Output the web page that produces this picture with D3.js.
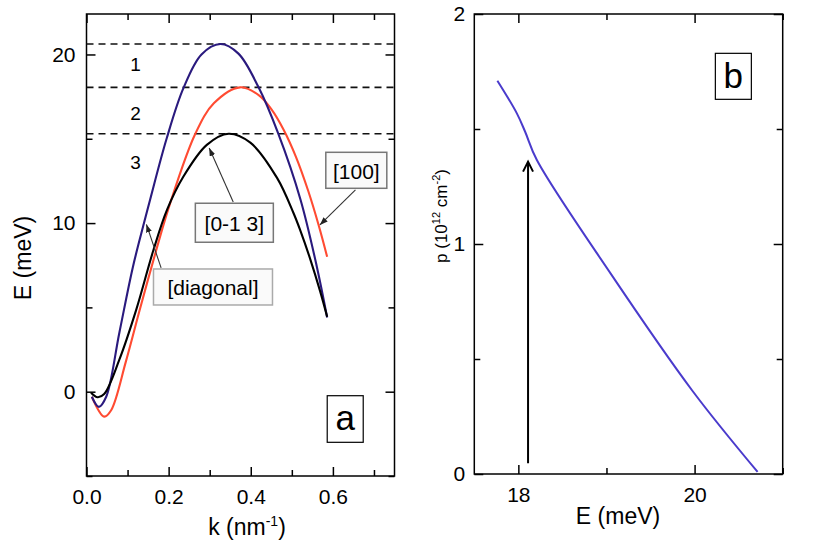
<!DOCTYPE html>
<html lang="en">
<head>
<meta charset="utf-8">
<title>Hole dispersion and density</title>
<script src="https://d3js.org/d3.v7.min.js"></script>
<style>
  body { margin: 0; background: #fff; }
  svg { display: block; font-family: "Liberation Sans", Arial, Helvetica, sans-serif; }
</style>
</head>
<body>
<svg id="chart" width="830" height="548"></svg>
<script>
// ---- panel a : E(k) along three directions ----
const kDiagonal = [0.013, 0.030, 0.048, 0.080, 0.113, 0.140, 0.155, 0.195, 0.236, 0.280, 0.326, 0.370, 0.419, 0.467, 0.521, 0.561, 0.586];
const eDiagonal = [-0.3, -0.9, -0.3, 3.5, 7.4, 10.0, 11.4, 15.0, 18.0, 20.0, 20.62, 20.05, 18.05, 15.3, 11.4, 7.4, 4.4];

const k100 = [0.013, 0.043, 0.060, 0.096, 0.129, 0.171, 0.204, 0.265, 0.310, 0.374, 0.420, 0.450, 0.480, 0.510, 0.540, 0.565, 0.586];
const e100 = [-0.3, -1.48, -1.1, 1.8, 4.8, 8.5, 11.2, 15.3, 17.1, 18.05, 17.58, 16.76, 15.54, 13.93, 11.9, 9.9, 8.0];

const k013 = [0.011, 0.027, 0.043, 0.080, 0.121, 0.163, 0.196, 0.236, 0.293, 0.346, 0.399, 0.464, 0.504, 0.521, 0.545, 0.569, 0.586];
const e013 = [-0.06, -0.33, -0.14, 1.9, 4.85, 8.4, 10.78, 12.76, 14.64, 15.3, 14.77, 12.68, 10.6, 9.54, 7.85, 5.95, 4.45];

// Fermi levels 1, 2, 3
const levels = [20.62, 18.05, 15.3];
const levelNames = ["1", "2", "3"];
const levelLabelE = [19.38, 16.5, 13.62];

// direction labels: box centre (k, E) and size, arrow tail and tip (k, E)
const dirNames = ["[0-1 3]", "[100]", "[diagonal]"];
const dirBox = [[0.360, 10.02, 78, 39], [0.657, 13.13, 61, 36], [0.308, 6.21, 119, 36]];
const dirTail = [[0.3573, 11.25], [0.6549, 11.97], [0.1817, 7.34]];
const dirTip = [[0.2988, 14.45], [0.5683, 9.89], [0.1459, 9.92]];

// ---- panel b : density vs energy ----
const eDensity = [17.762, 17.983, 18.077, 18.21, 19.05, 19.975, 20.715];
const pDensity = [1.710, 1.568, 1.488, 1.365, 0.87, 0.362, 0.009];
const arrowE = 18.11;
const arrowP = [0.047, 1.358];

const svg = d3.select("#chart");

let xa = d3.scaleLinear().domain([0, 0.75]).range([86.5, 394.5]);
let ya = d3.scaleLinear().domain([-5, 22.4]).range([476, 14]);

let xb = d3.scaleLinear().domain([17.5, 21]).range([474.3, 782.7]);
let yb = d3.scaleLinear().domain([0, 2]).range([474, 14]);

let defs = svg.append("defs");
defs.append("marker")
    .attr("id", "head")
    .attr("markerUnits", "userSpaceOnUse")
    .attr("markerWidth", 10).attr("markerHeight", 8)
    .attr("refX", 8).attr("refY", 3)
    .attr("orient", "auto")
  .append("path")
    .attr("d", "M0,0L8,3L0,6Z")
    .style("fill", "#222");
defs.append("marker")
    .attr("id", "openHead")
    .attr("markerUnits", "userSpaceOnUse")
    .attr("markerWidth", 14).attr("markerHeight", 14)
    .attr("refX", 11).attr("refY", 6)
    .attr("orient", "auto")
  .append("path")
    .attr("d", "M1,1L11,6L1,11")
    .style("fill", "none")
    .style("stroke", "#000")
    .style("stroke-width", 2);

function axes(x, y, xMajor, xMinor, yMajor, yMinor, xFmt, yFmt, xPad, yPad) {
  let [x0, x1] = x.range();
  let [y0, y1] = y.range();
  let put = (axis, tr) => svg.append("g")
      .attr("transform", tr)
      .call(axis)
      .call(g => g.select(".domain").remove())
      .call(g => g.selectAll("line").style("stroke", "#000").style("stroke-width", 1.5))
      .call(g => g.selectAll("text").style("font-size", "21px").style("fill", "#000"));

  put(d3.axisBottom(x).tickValues(xMajor).tickSize(-9).tickPadding(xPad).tickFormat(xFmt), `translate(0,${y0})`);
  put(d3.axisBottom(x).tickValues(xMinor).tickSize(-6).tickFormat(""), `translate(0,${y0})`);
  put(d3.axisTop(x).tickValues(xMajor).tickSize(-9).tickFormat(""), `translate(0,${y1})`);
  put(d3.axisTop(x).tickValues(xMinor).tickSize(-6).tickFormat(""), `translate(0,${y1})`);
  put(d3.axisLeft(y).tickValues(yMajor).tickSize(-9).tickPadding(yPad).tickFormat(yFmt), `translate(${x0},0)`);
  put(d3.axisLeft(y).tickValues(yMinor).tickSize(-6).tickFormat(""), `translate(${x0},0)`);
  put(d3.axisRight(y).tickValues(yMajor).tickSize(-9).tickFormat(""), `translate(${x1},0)`);
  put(d3.axisRight(y).tickValues(yMinor).tickSize(-6).tickFormat(""), `translate(${x1},0)`);

  svg.append("rect")
      .attr("x", x0).attr("y", y1)
      .attr("width", x1 - x0).attr("height", y0 - y1)
      .style("fill", "none")
      .style("stroke", "#000")
      .style("stroke-width", 1.5);
}

// ---------- panel a ----------
axes(xa, ya, [0, 0.2, 0.4, 0.6], [0.1, 0.3, 0.5, 0.7], [0, 10, 20], [-5, 5, 15],
     d3.format(".1f"), d3.format("d"), 13, 11);

svg.append("g")
  .selectAll("line")
  .data(levels)
  .join("line")
    .attr("x1", xa.range()[0])
    .attr("x2", xa.range()[1])
    .attr("y1", d => ya(d))
    .attr("y2", d => ya(d))
    .style("stroke", "#111")
    .style("stroke-width", 1.6)
    .style("stroke-dasharray", "7,5");

svg.append("g")
  .selectAll("text")
  .data(levelNames)
  .join("text")
    .attr("x", xa(0.1195))
    .attr("y", (d, i) => ya(levelLabelE[i]))
    .attr("text-anchor", "middle")
    .attr("dominant-baseline", "central")
    .style("font-size", "19px")
    .text(d => d);

let lineA = d3.line()
    .x(d => xa(d[0]))
    .y(d => ya(d[1]))
    .curve(d3.curveCatmullRom.alpha(0.5));

let curves = [
  { k: k100, e: e100, color: "#ff4b32" },
  { k: kDiagonal, e: eDiagonal, color: "#2a1a7e" },
  { k: k013, e: e013, color: "#000" }
];

svg.append("g")
  .selectAll("path")
  .data(curves)
  .join("path")
    .attr("d", c => lineA(c.k.map((k, i) => [k, c.e[i]])))
    .style("fill", "none")
    .style("stroke", c => c.color)
    .style("stroke-width", 2.1);

// direction labels
dirNames.forEach((name, i) => {
  let [bk, be, w, h] = dirBox[i];
  svg.append("line")
      .attr("x1", xa(dirTail[i][0])).attr("y1", ya(dirTail[i][1]))
      .attr("x2", xa(dirTip[i][0])).attr("y2", ya(dirTip[i][1]))
      .style("stroke", "#333")
      .style("stroke-width", 1.1)
      .attr("marker-end", "url(#head)");
  svg.append("rect")
      .attr("x", xa(bk) - w / 2).attr("y", ya(be) - h / 2)
      .attr("width", w).attr("height", h)
      .style("fill", "#fafafa")
      .style("stroke", i === 2 ? "#aaa" : "#777")
      .style("stroke-width", 1.5);
  svg.append("text")
      .attr("x", xa(bk)).attr("y", ya(be) + 1)
      .attr("text-anchor", "middle")
      .attr("dominant-baseline", "central")
      .style("font-size", "21px")
      .text(name);
});

// panel tag a
svg.append("rect")
    .attr("x", xa(0.63) - 18).attr("y", ya(-1.62) - 23.3)
    .attr("width", 36).attr("height", 46.6)
    .style("fill", "#fff").style("stroke", "#000").style("stroke-width", 1.2);
svg.append("text")
    .attr("x", xa(0.63)).attr("y", ya(-1.62) + 11)
    .attr("text-anchor", "middle")
    .style("font-size", "35px")
    .text("a");

// axis titles a
let kt = svg.append("text")
    .attr("x", 247).attr("y", 535)
    .attr("text-anchor", "middle")
    .style("font-size", "23px");
kt.append("tspan").text("k (nm");
kt.append("tspan").attr("dy", -9).style("font-size", "14px").text("-1");
kt.append("tspan").attr("dy", 9).text(")");

svg.append("text")
    .attr("transform", "translate(31,258) rotate(-90)")
    .attr("text-anchor", "middle")
    .style("font-size", "23px")
    .text("E (meV)");

// ---------- panel b ----------
axes(xb, yb, [18, 20], [19, 21], [0, 1, 2], [0.5, 1.5],
     d3.format("d"), d3.format("d"), 13, 9);

let lineB = d3.line()
    .x(d => xb(d[0]))
    .y(d => yb(d[1]))
    .curve(d3.curveCatmullRom.alpha(0.5));

svg.append("path")
    .attr("d", lineB(eDensity.map((e, i) => [e, pDensity[i]])))
    .style("fill", "none")
    .style("stroke", "#4a3bcc")
    .style("stroke-width", 2);

svg.append("line")
    .attr("x1", xb(arrowE)).attr("y1", yb(arrowP[0]))
    .attr("x2", xb(arrowE)).attr("y2", yb(arrowP[1]))
    .style("stroke", "#000")
    .style("stroke-width", 2)
    .attr("marker-end", "url(#openHead)");

svg.append("rect")
    .attr("x", xb(20.44) - 18).attr("y", yb(1.729) - 23)
    .attr("width", 36).attr("height", 46)
    .style("fill", "#fff").style("stroke", "#000").style("stroke-width", 1.2);
svg.append("text")
    .attr("x", xb(20.44)).attr("y", yb(1.729) + 12)
    .attr("text-anchor", "middle")
    .style("font-size", "35px")
    .text("b");

svg.append("text")
    .attr("x", 618).attr("y", 524)
    .attr("text-anchor", "middle")
    .style("font-size", "23px")
    .text("E (meV)");

let pt = svg.append("text")
    .attr("transform", "translate(447,216) rotate(-90)")
    .attr("text-anchor", "middle")
    .style("font-size", "17px");
pt.append("tspan").text("p (10");
pt.append("tspan").attr("dy", -7).style("font-size", "11px").text("12");
pt.append("tspan").attr("dy", 7).text(" cm");
pt.append("tspan").attr("dy", -7).style("font-size", "11px").text("-2");
pt.append("tspan").attr("dy", 7).text(")");
</script>
</body>
</html>
